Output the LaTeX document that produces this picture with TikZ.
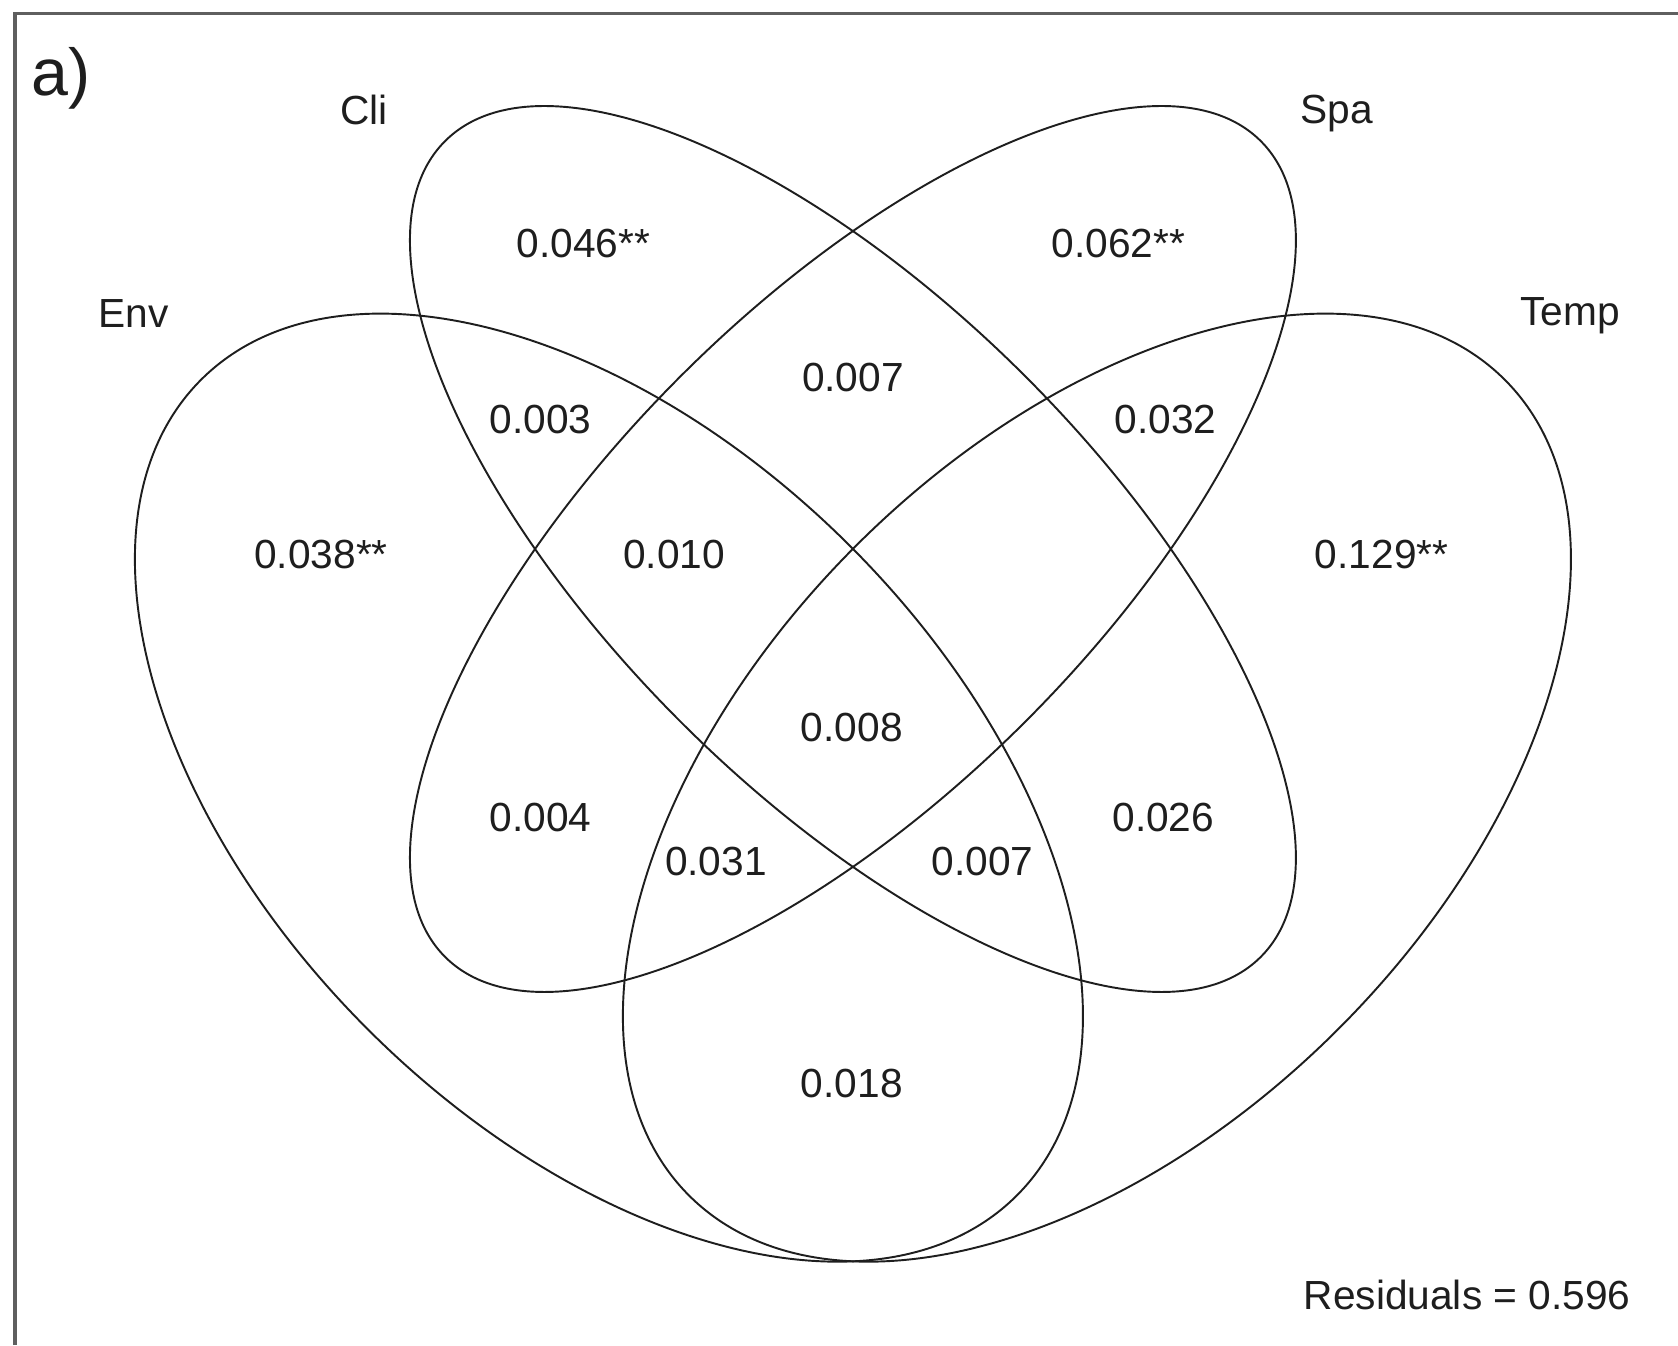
\documentclass[tikz,border=0pt]{standalone}
\usepackage{fontspec}
\setmainfont{Liberation Sans}
\definecolor{inkgrey}{RGB}{30, 30, 30}
\definecolor{framegrey}{RGB}{95, 95, 95}
\usepackage{tikz}
\usetikzlibrary{calc}

\begin{document}
\begin{tikzpicture}[x=0.5pt, y=-0.5pt,
    setline/.style={draw=inkgrey, line width=0.9pt},
    setname/.style={anchor=base, inner sep=0pt, text=inkgrey, font=\fontsize{19}{23}\selectfont},
    fraction/.style={anchor=base, inner sep=0pt, text=inkgrey, font=\fontsize{19}{23}\selectfont}]
  \useasboundingbox (0,0) rectangle (1568,1257);
  \fill[white] (0,0) rectangle (1568,1257);
  % panel frame (only top and left edges are visible)
  \draw[framegrey, line width=1.5pt] (14,1257) -- (14,12.5) -- (1568,12.5);
  \node[anchor=base west, inner sep=0pt, text=inkgrey, font=\fontsize{31}{37}\selectfont] (panel) at (29,89) {a)};

  % centres of the four sets
  \coordinate (cli) at (797,513);
  \coordinate (spa) at (797,513);
  \coordinate (env) at (569,736);
  \coordinate (temp) at (1025,736);

  \draw[setline, rotate around={-45:(cli)}] (cli) ellipse [x radius=269.5pt, y radius=114pt];
  \draw[setline, rotate around={45:(spa)}] (spa) ellipse [x radius=269.5pt, y radius=114pt];
  \draw[setline, rotate around={-45:(env)}] (env) ellipse [x radius=269.5pt, y radius=159.5pt];
  \draw[setline, rotate around={45:(temp)}] (temp) ellipse [x radius=269.5pt, y radius=159.5pt];

  % set names
  \node[setname] (cli-name) at (340,116) {Cli};
  \node[setname] (spa-name) at (1249,115) {Spa};
  \node[setname] (env-name) at (125,306) {Env};
  \node[setname] (temp-name) at (1467,304) {Temp};

  % fractions
  \node[fraction] (f-cli) at (545,241) {0.046**};
  \node[fraction] (f-spa) at (1045,241) {0.062**};
  \node[fraction] (f-clispa) at (797,366) {0.007};
  \node[fraction] (f-clienv) at (505,405) {0.003};
  \node[fraction] (f-spatemp) at (1089,405) {0.032};
  \node[fraction] (f-env) at (300,531) {0.038**};
  \node[fraction] (f-clispaenv) at (630,531) {0.010};
  \node[fraction] (f-temp) at (1291,531) {0.129**};
  \node[fraction] (f-all) at (796,693) {0.008};
  \node[fraction] (f-spaenv) at (505,777) {0.004};
  \node[fraction] (f-clitemp) at (1087,777) {0.026};
  \node[fraction] (f-spaenvtemp) at (669,818) {0.031};
  \node[fraction] (f-clienvtemp) at (918,818) {0.007};
  \node[fraction] (f-envtemp) at (796,1026) {0.018};
  \node[fraction, anchor=base east] (resid) at (1524,1224) {Residuals = 0.596};
\end{tikzpicture}
\end{document}
